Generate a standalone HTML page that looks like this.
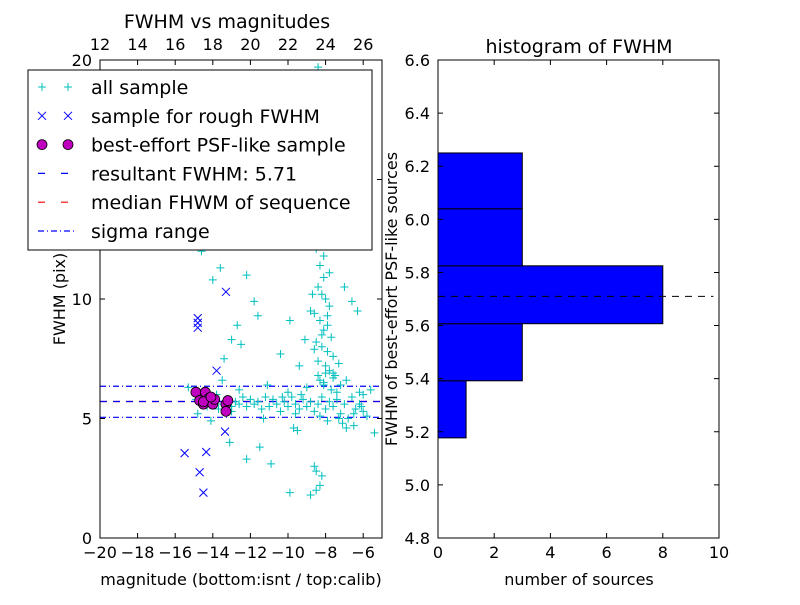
<!DOCTYPE html>
<html><head><meta charset="utf-8"><style>
body{margin:0;background:#fff;}
svg text{font-family:"DejaVu Sans","Liberation Sans",sans-serif;}
</style></head><body>
<svg id="c" width="800" height="600" xmlns="http://www.w3.org/2000/svg"></svg>
<script>
// ---- left chart data ----
const allX = [-15.3,-14.9,-14.6,-14.3,-14.1,-13.9,-13.7,-13.5,-13.2,-13.0,-12.8,-12.6,-12.4,-12.2,-12.0,-11.8,-11.6,-11.4,-11.2,-11.0,-10.8,-10.6,-10.4,-10.2,-10.0,-9.8,-9.6,-9.4,-9.2,-9.0,-8.8,-8.6,-8.4,-8.2,-8.0,-7.8,-7.6,-7.4,-7.2,-7.0,-6.8,-6.6,-6.4,-6.2,-6.0,-5.8,-5.6,
 -14.8,-14.1,-13.8,-13.5,-13.0,-12.6,-11.3,-11.1,-10.3,-10.0,-9.6,-9.3,-9.0,-8.4,-8.3,-8.1,-7.9,-7.6,-7.3,-6.9,-6.5,-6.1,
 -8.5,-8.3,-8.1,-8.4,-8.2,-8.0,-7.8,-8.6,-8.3,-7.9,-8.1,-7.7,-8.5,-8.2,-7.9,-7.6,-8.4,-8.0,-7.8,-7.5,-8.3,-8.1,-7.7,-7.4,-8.6,-8.2,-7.9,-7.3,-8.0,-7.6,-7.2,-8.4,-8.1,-7.8,-7.0,-6.6,-9.1,-8.8,-9.4,-8.7,-10.4,-9.9,-11.6,-12.2,-12.5,-13.0,-13.4,-13.6,-14.0,-14.6,-14.8,-13.1,-12.7,-11.8,-9.5,-6.9,-6.3,-6.0,-5.4,
 -8.6,-8.5,-8.3,-8.5,-8.2,-8.8,-9.9,-8.4,-8.2,-10.9,-11.5,-12.2,-12.4,-13.5,-6.2,-6.5,-7.1,-9.7];
const allY = [6.3,5.8,5.6,5.5,5.9,5.7,5.4,5.6,5.8,5.5,5.7,5.6,5.9,5.5,5.8,5.6,5.7,5.4,5.9,5.5,5.8,5.6,5.3,5.7,5.5,5.9,5.6,5.4,5.8,5.5,5.7,5.3,5.6,5.9,5.4,5.7,5.5,5.8,5.2,5.6,5.0,5.9,5.4,6.1,5.3,5.1,6.2,
 5.2,4.9,6.0,6.6,5.3,6.2,5.0,6.4,5.9,6.1,5.2,6.0,6.3,6.8,5.1,6.5,4.9,6.9,5.0,6.6,4.7,5.5,
 12.1,11.4,10.9,10.5,10.2,10.0,9.7,9.4,9.1,8.9,8.7,8.4,8.2,8.0,7.8,7.6,7.4,7.2,7.0,6.8,6.6,6.4,6.2,6.1,7.9,8.5,9.3,7.3,6.9,6.7,6.4,12.4,11.8,11.1,10.5,9.9,8.3,9.5,7.2,10.2,7.7,9.1,9.3,11.0,8.1,8.3,7.5,11.3,10.8,12.0,13.0,4.0,8.9,9.9,4.5,4.6,9.5,6.0,4.4,
 3.0,2.8,2.2,2.0,2.6,1.8,1.9,19.7,13.2,3.1,3.8,3.3,13.0,12.8,5.6,5.2,4.8,4.6];
const roughX = [-13.3,-14.8,-14.8,-14.8,-13.8,-13.35,-15.5,-14.35,-14.7,-14.5];
const roughY = [10.3,9.2,9.0,8.8,7.0,4.45,3.55,3.6,2.75,1.9];
const bestX = [-14.9,-14.4,-14.7,-14.5,-14.2,-14.0,-13.9,-13.3,-13.2,-13.3,-14.5,-14.1];
const bestY = [6.1,6.1,5.75,5.6,5.85,5.6,5.8,5.6,5.75,5.3,5.7,5.9];
const resultFWHM = 5.71, medianFWHM = 5.71, sigmaLo = 5.05, sigmaHi = 6.35;
const xTicks = [-20,-18,-16,-14,-12,-10,-8,-6];
const xTickLabels = ["\u221220","\u221218","\u221216","\u221214","\u221212","\u221210","\u22128","\u22126"];
const topTicks = [12,14,16,18,20,22,24,26];
const yTicks = [0,5,10,15,20];
// ---- histogram data ----
const binEdges = [5.177,5.392,5.607,5.825,6.04,6.25];
const binCounts = [1,3,8,3,3];
const hxTicks = [0,2,4,6,8,10];
const hyTicks = [4.8,5.0,5.2,5.4,5.6,5.8,6.0,6.2,6.4,6.6];

const S = document.getElementById('c');
const NS = 'http://www.w3.org/2000/svg';
function mk(tag, a, parent){const e=document.createElementNS(NS,tag);for(const k in a)e.setAttribute(k,a[k]);(parent||S).appendChild(e);return e;}
function tx(x,y,s,size,anchor,extra){const e=mk('text',Object.assign({x:x,y:y,'font-size':size,'text-anchor':anchor||'middle',fill:'#000'},extra||{}));e.textContent=s;return e;}

// left axes
const L={x0:100,x1:382,y0:60,y1:538};
const lx=v=>L.x0+(v+20)/15*(L.x1-L.x0);
const ltop=v=>L.x0+(v-12)/15*(L.x1-L.x0);
const ly=v=>L.y1-v/20*(L.y1-L.y0);
const g1=mk('g',{});


// lines
function hline(y,col,dash,name){const e=mk('line',{x1:L.x0,x2:L.x1,y1:ly(y),y2:ly(y),stroke:col,'stroke-width':1.2,'stroke-dasharray':dash},g1);}
hline(sigmaHi,'#00f','6 3 1 3','sigma-upper-line');
hline(sigmaLo,'#00f','6 3 1 3','sigma-lower-line');
hline(medianFWHM,'#f00','7 6','median-line');
hline(resultFWHM,'#00f','7 6','resultant-line');
// all sample
for(let i=0;i<allX.length;i++){const x=lx(allX[i]),y=ly(allY[i]);if(y<L.y0||y>L.y1)continue;const p=mk('path',{d:`M${x-4},${y}h8M${x},${y-4}v8`,stroke:'#00bfbf','stroke-width':1},g1);}
for(let i=0;i<roughX.length;i++){const x=lx(roughX[i]),y=ly(roughY[i]);const p=mk('path',{d:`M${x-4},${y-4}l8,8M${x-4},${y+4}l8,-8`,stroke:'#00f','stroke-width':1},g1);}
for(let i=0;i<bestX.length;i++){const c=mk('circle',{cx:lx(bestX[i]),cy:ly(bestY[i]),r:5,fill:'#bf00bf',stroke:'#000','stroke-width':0.8},g1);}
mk('rect',{x:L.x0,y:L.y0,width:L.x1-L.x0,height:L.y1-L.y0,fill:'none',stroke:'#000','stroke-width':1});
xTicks.forEach((v,i)=>{const x=lx(v);mk('path',{d:`M${x},${L.y1}v-5M${x},${L.y0}v5`,stroke:'#000'});tx(x,L.y1+20,xTickLabels[i],16);});
topTicks.forEach(v=>{const x=ltop(v);tx(x,50,String(v),16);});
yTicks.forEach(v=>{const y=ly(v);mk('path',{d:`M${L.x0},${y}h5M${L.x1},${y}h-5`,stroke:'#000'});tx(L.x0-8,y+6,String(v),16,'end');});
tx(241,585,'magnitude (bottom:isnt / top:calib)',16);
tx(227,28,'FWHM vs magnitudes',19);
const yl=tx(65,299,'FWHM (pix)',16,'middle',{transform:'rotate(-90 65 299)'});

// legend
const lg=mk('g',{});


mk('rect',{x:28,y:70,width:344,height:180,fill:'#fff',stroke:'#000','stroke-width':1},lg);
const legTxt=['all sample','sample for rough FWHM','best-effort PSF-like sample','resultant FWHM: 5.71','median FHWM of sequence','sigma range'];
legTxt.forEach((s,i)=>{const y=87+i*28.8;
 if(i==0){[42,68].forEach(x=>mk('path',{d:`M${x-4},${y}h8M${x},${y-4}v8`,stroke:'#00bfbf'},lg));}
 if(i==1){[42,68].forEach(x=>mk('path',{d:`M${x-4},${y-4}l8,8M${x-4},${y+4}l8,-8`,stroke:'#00f'},lg));}
 if(i==2){[42,68].forEach(x=>mk('circle',{cx:x,cy:y,r:5,fill:'#bf00bf',stroke:'#000','stroke-width':0.8},lg));}
 if(i==3)mk('line',{x1:38,x2:74,y1:y,y2:y,stroke:'#00f','stroke-dasharray':'7 16','stroke-width':1.2},lg);
 if(i==4)mk('line',{x1:38,x2:74,y1:y,y2:y,stroke:'#f00','stroke-dasharray':'7 16','stroke-width':1.2},lg);
 if(i==5)mk('line',{x1:38,x2:74,y1:y,y2:y,stroke:'#00f','stroke-dasharray':'6 3 1 3','stroke-width':1.2},lg);
 const t=tx(91,y+7,s,19,'start');lg.appendChild(t);
});

// right histogram
const R={x0:438,x1:719,y0:60,y1:538};
const rx=v=>R.x0+v/10*(R.x1-R.x0);
const ry=v=>R.y1-(v-4.8)/1.8*(R.y1-R.y0);
for(let i=0;i<binCounts.length;i++){const b=mk('rect',{x:rx(0),y:ry(binEdges[i+1]),width:rx(binCounts[i])-rx(0),height:ry(binEdges[i])-ry(binEdges[i+1]),fill:'#00f',stroke:'#000','stroke-width':1});}
const hl=mk('line',{x1:rx(0),x2:rx(9.8),y1:ry(resultFWHM),y2:ry(resultFWHM),stroke:'#000','stroke-dasharray':'7 6','stroke-width':1});


mk('rect',{x:R.x0,y:R.y0,width:R.x1-R.x0,height:R.y1-R.y0,fill:'none',stroke:'#000','stroke-width':1});
hxTicks.forEach(v=>{const x=rx(v);mk('path',{d:`M${x},${R.y1}v-5M${x},${R.y0}v5`,stroke:'#000'});tx(x,R.y1+20,String(v),16);});
hyTicks.forEach(v=>{const y=ry(v);mk('path',{d:`M${R.x0},${y}h5M${R.x1},${y}h-5`,stroke:'#000'});tx(R.x0-8,y+6,v.toFixed(1),16,'end');});
tx(579,585,'number of sources',16);
tx(579,53,'histogram of FWHM',19);
tx(397,299,'FWHM of best-effort PSF-like sources',16,'middle',{transform:'rotate(-90 397 299)'});
</script>
</body></html>
